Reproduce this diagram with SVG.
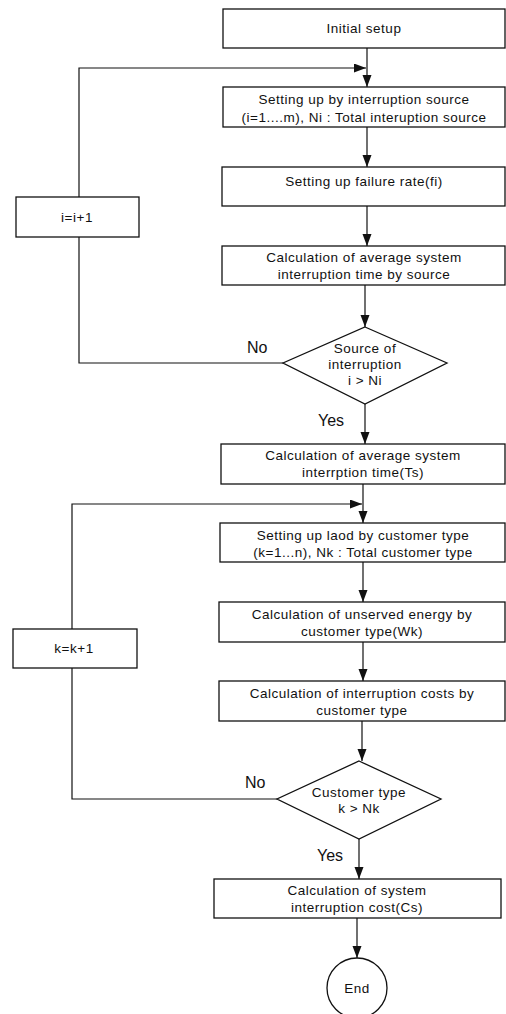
<svg xmlns="http://www.w3.org/2000/svg" width="506" height="1014" viewBox="0 0 506 1014">
<style>
.box{fill:#fff;stroke:#111;stroke-width:1.3}
.t{font-family:"Liberation Sans",Arial,sans-serif;font-size:13.5px;letter-spacing:0.5px;fill:#111;text-anchor:middle}
.lbl{font-family:"Liberation Sans",Arial,sans-serif;font-size:16px;fill:#111}
.c{fill:none;stroke:#111;stroke-width:1.2}
</style>
<defs>
<marker id="ah" markerUnits="userSpaceOnUse" markerWidth="13" markerHeight="10" refX="12" refY="4.5" orient="auto">
<path d="M0,0 L12,4.5 L0,9 z" fill="#111"/>
</marker>
</defs>
<rect width="506" height="1014" fill="#fff"/>
<g id="connectors">
<line class="c" x1="367" y1="48" x2="367" y2="87" marker-end="url(#ah)"/>
<line class="c" x1="367" y1="127" x2="367" y2="167" marker-end="url(#ah)"/>
<line class="c" x1="367" y1="206" x2="367" y2="246" marker-end="url(#ah)"/>
<line class="c" x1="365" y1="285" x2="365" y2="327" marker-end="url(#ah)"/>
<line class="c" x1="365" y1="404" x2="365" y2="444" marker-end="url(#ah)"/>
<polyline class="c" points="283,363 79,363 79,237"/>
<polyline class="c" points="79,197 79,68 366,68" marker-end="url(#ah)"/>
<line class="c" x1="363" y1="484" x2="363" y2="523" marker-end="url(#ah)"/>
<line class="c" x1="363" y1="562" x2="363" y2="602" marker-end="url(#ah)"/>
<line class="c" x1="363" y1="642" x2="363" y2="681" marker-end="url(#ah)"/>
<line class="c" x1="362" y1="721" x2="362" y2="761" marker-end="url(#ah)"/>
<polyline class="c" points="277,799 72,799 72,668"/>
<polyline class="c" points="72,629 72,504 362,504" marker-end="url(#ah)"/>
<line class="c" x1="359" y1="839" x2="359" y2="879" marker-end="url(#ah)"/>
<line class="c" x1="357" y1="918" x2="357" y2="958" marker-end="url(#ah)"/>
<text class="lbl" x="247" y="353">No</text>
<text class="lbl" x="318" y="426">Yes</text>
<text class="lbl" x="245" y="788">No</text>
<text class="lbl" x="317" y="861">Yes</text>
</g>
<g id="n1"><rect class="box" x="223" y="9" width="282" height="39"/><text class="t" x="364" y="33">Initial setup</text></g>
<g id="n2"><rect class="box" x="223" y="87" width="282" height="40"/><text class="t" x="364" y="104">Setting up by interruption source</text><text class="t" x="364" y="122">(i=1....m), Ni : Total interuption source</text></g>
<g id="n3"><rect class="box" x="222" y="167" width="283" height="39"/><text class="t" x="364" y="186">Setting up failure rate(fi)</text></g>
<g id="n4"><rect class="box" x="222" y="246" width="283" height="39"/><text class="t" x="364" y="262">Calculation of average system</text><text class="t" x="364" y="279">interruption time by source</text></g>
<g id="d1"><polygon class="box" points="365,327 447,363 365,404 283,363"/><text class="t" x="365" y="353">Source of</text><text class="t" x="365" y="369">interruption</text><text class="t" x="365" y="385">i &gt; Ni</text></g>
<g id="inc_i"><rect class="box" x="16" y="197" width="123" height="40"/><text class="t" x="77" y="222">i=i+1</text></g>
<g id="n5"><rect class="box" x="221" y="444" width="284" height="40"/><text class="t" x="363" y="460">Calculation of average system</text><text class="t" x="363" y="477">interrption time(Ts)</text></g>
<g id="n6"><rect class="box" x="220" y="523" width="285" height="39"/><text class="t" x="363" y="540">Setting up laod by customer type</text><text class="t" x="363" y="557">(k=1...n), Nk : Total customer type</text></g>
<g id="n7"><rect class="box" x="219" y="602" width="286" height="40"/><text class="t" x="362" y="619">Calculation of unserved energy by</text><text class="t" x="362" y="636">customer type(Wk)</text></g>
<g id="inc_k"><rect class="box" x="13" y="629" width="124" height="39"/><text class="t" x="74" y="653">k=k+1</text></g>
<g id="n8"><rect class="box" x="219" y="681" width="286" height="40"/><text class="t" x="362" y="698">Calculation of interruption costs by</text><text class="t" x="362" y="715">customer type</text></g>
<g id="d2"><polygon class="box" points="359,761 441,799 359,839 277,799"/><text class="t" x="359" y="797">Customer type</text><text class="t" x="359" y="813">k &gt; Nk</text></g>
<g id="n9"><rect class="box" x="214" y="879" width="287" height="39"/><text class="t" x="357" y="895">Calculation of system</text><text class="t" x="357" y="912">interruption cost(Cs)</text></g>
<g id="end"><circle class="box" cx="357" cy="988" r="30"/><text class="t" x="357" y="993">End</text></g>
</svg>
